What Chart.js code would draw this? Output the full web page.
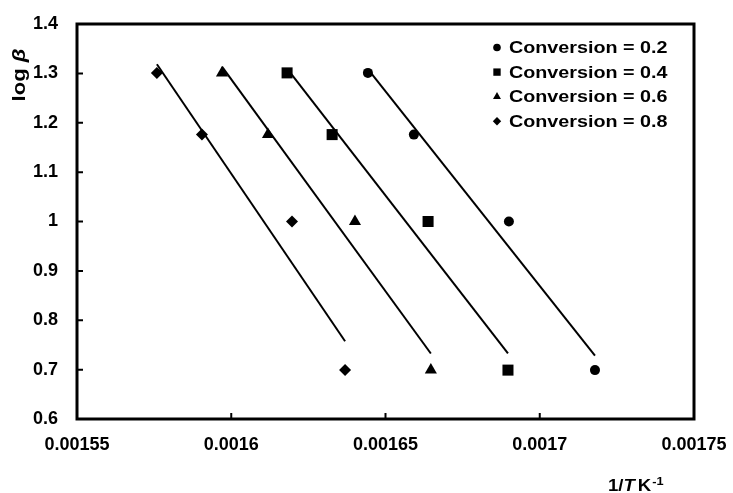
<!DOCTYPE html>
<html>
<head>
<meta charset="utf-8">
<script src="https://cdn.jsdelivr.net/npm/chart.js@4.4.1/dist/chart.umd.min.js"></script>
<style>
    html, body { margin: 0; padding: 0; background: #fff; }
</style>
</head>
<body>
<canvas id="kasChart" width="733" height="493"></canvas>
<script>
// log of heating rate (5, 15, 10, 20 K/min) against 1/T for each conversion
const logBeta = [1.301, 1.176, 1.0, 0.699];
const invT02 = [0.0016443, 0.0016592, 0.0016900, 0.0017179];
const invT04 = [0.0016181, 0.0016327, 0.0016638, 0.0016897];
const invT06 = [0.0015970, 0.0016119, 0.0016401, 0.0016647];
const invT08 = [0.0015759, 0.0015905, 0.0016197, 0.0016369];
const seriesLabels = ["Conversion = 0.2", "Conversion = 0.4", "Conversion = 0.6", "Conversion = 0.8"];
const xTicks = [0.00155, 0.0016, 0.00165, 0.0017, 0.00175];
const yTicks = [0.6, 0.7, 0.8, 0.9, 1.0, 1.1, 1.2, 1.3, 1.4];

const FONT = "'Liberation Sans', Arial, sans-serif";
const STRETCH = 1.16; // the original text is a little wider than Arial
const markers = [
    { style: "circle", radius: 5, legendRadius: 3.8 },
    { style: "rect", radius: 7.8, legendRadius: 5.2 },
    { style: "triangle", radius: 7, legendRadius: 4.6 },
    { style: "rectRot", radius: 6, legendRadius: 4.2 },
];

// least squares trend line over the range of the points (like an Excel trendline)
function trendLine(xs, ys) {
    const n = xs.length;
    const mx = xs.reduce((a, b) => a + b, 0) / n;
    const my = ys.reduce((a, b) => a + b, 0) / n;
    let sxy = 0, sxx = 0;
    xs.forEach((x, i) => {
        sxy += (x - mx) * (ys[i] - my);
        sxx += (x - mx) * (x - mx);
    });
    const slope = sxy / sxx;
    const lo = Math.min(...xs), hi = Math.max(...xs);
    return [
        { x: lo, y: my + slope * (lo - mx) },
        { x: hi, y: my + slope * (hi - mx) },
    ];
}

const allX = [invT02, invT04, invT06, invT08];
const datasets = [];
allX.forEach((xs, i) => {
    datasets.push({
        label: seriesLabels[i],
        data: xs.map((x, j) => ({ x: x, y: logBeta[j] })),
        pointStyle: markers[i].style,
        pointRadius: markers[i].radius,
        pointBackgroundColor: "#000",
        pointBorderWidth: 0,
        showLine: false,
        order: 1,
    });
});
allX.forEach((xs) => {
    datasets.push({
        label: "trend",
        data: trendLine(xs, logBeta),
        showLine: true,
        borderColor: "#000",
        borderWidth: 2,
        pointRadius: 0,
        order: 2,
    });
});

function stretchedText(ctx, text, x, y) {
    ctx.save();
    ctx.translate(x, y);
    ctx.scale(STRETCH, 1);
    ctx.fillText(text, 0, 0);
    ctx.restore();
    return ctx.measureText(text).width * STRETCH;
}

// frame, inward ticks, legend and axis titles
const decorations = {
    id: "decorations",
    afterDraw(chart) {
        const { ctx, chartArea: a, scales: { x, y } } = chart;
        ctx.save();
        ctx.strokeStyle = "#000";
        ctx.lineWidth = 3;
        ctx.strokeRect(a.left, a.top, a.right - a.left, a.bottom - a.top);

        ctx.lineWidth = 2;
        ctx.beginPath();
        yTicks.forEach((v) => {
            const py = y.getPixelForValue(v);
            ctx.moveTo(a.left, py);
            ctx.lineTo(a.left + 6, py);
        });
        xTicks.forEach((v) => {
            const px = x.getPixelForValue(v);
            ctx.moveTo(px, a.bottom);
            ctx.lineTo(px, a.bottom - 6);
        });
        ctx.stroke();

        // legend
        ctx.fillStyle = "#000";
        ctx.font = "bold 17px " + FONT;
        ctx.textBaseline = "middle";
        ctx.textAlign = "left";
        seriesLabels.forEach((label, i) => {
            const ly = a.top + 23.5 + i * 24.6;
            const lx = 497;
            Chart.helpers.drawPoint(ctx, {
                pointStyle: markers[i].style,
                radius: markers[i].legendRadius,
                rotation: 0,
                borderWidth: 0,
            }, lx, ly);
            stretchedText(ctx, label, 509, ly + 1);
        });

        // y title "log β"
        ctx.save();
        ctx.translate(20, 75);
        ctx.rotate(-Math.PI / 2);
        ctx.textAlign = "left";
        ctx.textBaseline = "middle";
        ctx.font = "bold 19px " + FONT;
        const logW = ctx.measureText("log ").width * STRETCH;
        ctx.font = "italic bold 19px " + FONT;
        const betaW = ctx.measureText("β").width * STRETCH;
        const start = -(logW + betaW) / 2;
        ctx.font = "bold 19px " + FONT;
        stretchedText(ctx, "log ", start, 0);
        ctx.font = "italic bold 19px " + FONT;
        stretchedText(ctx, "β", start + logW, 0);
        ctx.restore();

        // x title "1/T K-1"
        ctx.textBaseline = "alphabetic";
        let tx = 608;
        const ty = 491;
        ctx.font = "bold 16px " + FONT;
        tx += stretchedText(ctx, "1/", tx, ty);
        ctx.font = "italic bold 16px " + FONT;
        tx += stretchedText(ctx, "T", tx, ty) + 3;
        ctx.font = "bold 16px " + FONT;
        tx += stretchedText(ctx, "K", tx, ty) + 1;
        ctx.font = "bold 11px " + FONT;
        stretchedText(ctx, "-1", tx, ty - 6);
        ctx.restore();
    },
};

new Chart(document.getElementById("kasChart"), {
    type: "scatter",
    data: { datasets: datasets },
    options: {
        responsive: false,
        animation: false,
        layout: { padding: { top: 24, right: 39, left: 0, bottom: 0 } },
        plugins: {
            legend: { display: false },
            tooltip: { enabled: false },
        },
        scales: {
            x: {
                type: "linear",
                min: 0.00155,
                max: 0.00175,
                afterBuildTicks: (s) => { s.ticks = xTicks.map((v) => ({ value: v })); },
                afterFit: (s) => {
                    s.height = 74;
                    s.paddingLeft = 0;
                    s.paddingRight = 0;
                },
                grid: { display: false, drawTicks: false },
                border: { display: false },
                ticks: {
                    padding: 15,
                    color: "#000",
                    font: { family: FONT, size: 18, weight: "bold" },
                    callback: (v) => String(parseFloat(v.toFixed(5))),
                },
            },
            y: {
                type: "linear",
                min: 0.6,
                max: 1.4,
                afterBuildTicks: (s) => { s.ticks = yTicks.map((v) => ({ value: v })); },
                afterFit: (s) => {
                    s.width = 77;
                    s.paddingTop = 0;
                    s.paddingBottom = 0;
                },
                grid: { display: false, drawTicks: false },
                border: { display: false },
                ticks: {
                    padding: 19,
                    color: "#000",
                    font: { family: FONT, size: 18, weight: "bold" },
                    callback: (v) => String(parseFloat(v.toFixed(1))),
                },
            },
        },
    },
    plugins: [decorations],
});
</script>
</body>
</html>
